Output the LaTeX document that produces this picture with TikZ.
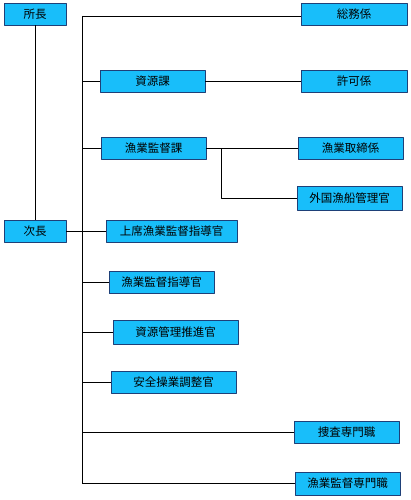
\documentclass[tikz,border=0pt]{standalone}
\usepackage{fontspec}
\setmainfont{Noto Sans CJK JP}
\definecolor{boxfill}{RGB}{24,190,250}
\definecolor{boxline}{RGB}{30,64,120}
\begin{document}
\begin{tikzpicture}[x=1pt, y=-1pt, font=\fontsize{11.5}{13}\selectfont, line join=round, line width=0.8pt,
	unit/.style={draw=boxline, fill=boxfill, line width=0.8pt, inner sep=0pt, minimum width=105pt, minimum height=22pt}]
	\useasboundingbox (0,0) rectangle (411,500);
	\node[unit, minimum width=62pt] (shocho) at (35,14) {所長};
	\node[unit, minimum width=62pt] (jicho) at (35,231) {次長};
	\node[unit, minimum width=106pt] (somu) at (354,14) {総務係};
	\node[unit] (shigenka) at (152.5,81) {資源課};
	\node[unit, minimum width=106pt] (kyoka) at (354,81) {許可係};
	\node[unit] (kanshika) at (153.5,148) {漁業監督課};
	\node[unit] (torishimari) at (350.5,148) {漁業取締係};
	\node[unit, minimum height=24pt] (gaikoku) at (349.5,198) {外国漁船管理官};
	\node[unit, minimum width=131pt] (joseki) at (171.5,231) {上席漁業監督指導官};
	\node[unit] (shidokan) at (161.5,282.5) {漁業監督指導官};
	\node[unit, minimum width=125pt, minimum height=24pt] (suishin) at (175.5,332) {資源管理推進官};
	\node[unit, minimum width=125pt] (anzen) at (173.5,382) {安全操業調整官};
	\node[unit] (sosa) at (346.5,432) {捜査専門職};
	\node[unit, minimum height=23pt] (senmon) at (347.5,483.5) {漁業監督専門職};
	\coordinate (trunktop) at (82,16);
	\coordinate (trunkbot) at (82,483);
	\coordinate (fork) at (221,148);
	\draw (shocho) -- (jicho);
	\draw (trunktop) -- (trunkbot);
	\draw (trunktop) -- (trunktop -| somu.west);
	\draw (shigenka.west -| trunktop) -- (shigenka.west);
	\draw (shigenka.east) -- (kyoka.west);
	\draw (kanshika.west -| trunktop) -- (kanshika.west);
	\draw (kanshika.east) -- (torishimari.west);
	\draw (fork) |- (gaikoku.west);
	\draw (jicho.east) -- (joseki.west);
	\draw (shidokan.west -| trunktop) -- (shidokan.west);
	\draw (suishin.west -| trunktop) -- (suishin.west);
	\draw (anzen.west -| trunktop) -- (anzen.west);
	\draw (sosa.west -| trunktop) -- (sosa.west);
	\draw (trunkbot) -- (trunkbot -| senmon.west);
\end{tikzpicture}
\end{document}
